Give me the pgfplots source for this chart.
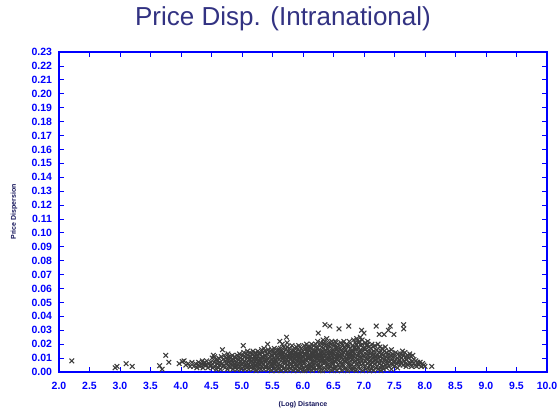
\documentclass[border=0pt]{standalone}
\usepackage{fontspec}
\setmainfont{Liberation Sans}
\usepackage{pgfplots}
\usepackage{pgfplotstable}
\pgfplotsset{compat=1.18}
\definecolor{axblue}{RGB}{0,0,255}
\definecolor{titlenavy}{RGB}{50,50,130}
\definecolor{labelnavy}{RGB}{20,20,90}
\definecolor{markgray}{RGB}{60,60,60}
\pgfplotstableread{
x y
2.21 0.008
2.92 0.003
2.95 0.004
3.10 0.006
3.20 0.004
3.65 0.0045
3.69 0.002
3.75 0.012
3.80 0.007
3.97 0.006
4.02 0.0075
4.05 0.008
4.08 0.005
4.12 0.006
4.15 0.004
4.18 0.007
4.21 0.004
4.24 0.006
4.26 0.003
4.28 0.005
4.29 0.007
4.31 0.004
4.33 0.006
4.35 0.008
4.36 0.003
4.38 0.005
4.39 0.007
4.41 0.005
4.42 0.008
4.44 0.003
4.46 0.006
4.48 0.004
4.49 0.007
4.50 0.005
4.51 0.010
4.52 0.003
4.53 0.012
4.54 0.007
4.55 0.011
4.56 0.004
4.57 0.009
4.58 0.002
4.59 0.006
4.60 0.008
4.61 0.003
4.62 0.010
4.63 0.005
4.64 0.007
4.65 0.002
4.66 0.011
4.67 0.006
4.68 0.016
4.69 0.004
4.69 0.009
4.70 0.005
4.71 0.012
4.72 0.003
4.73 0.008
4.74 0.010
4.75 0.006
4.76 0.002
4.77 0.013
4.78 0.007
4.78 0.004
4.79 0.009
4.79 0.011
4.80 0.006
4.81 0.003
4.81 0.010
4.82 0.008
4.83 0.005
4.84 0.012
4.85 0.002
4.85 0.007
4.86 0.009
4.87 0.004
4.88 0.011
4.88 0.006
4.89 0.003
4.89 0.008
4.90 0.010
4.90 0.004
4.91 0.007
4.92 0.002
4.92 0.012
4.93 0.005
4.94 0.009
4.94 0.003
4.95 0.011
4.96 0.006
4.96 0.013
4.97 0.004
4.98 0.008
4.98 0.010
4.99 0.002
4.99 0.006
5.00 0.009
5.00 0.003
5.01 0.012
5.02 0.019
5.02 0.006
5.03 0.004
5.03 0.014
5.04 0.008
5.05 0.002
5.05 0.011
5.06 0.005
5.07 0.009
5.07 0.013
5.08 0.003
5.08 0.007
5.09 0.010
5.09 0.015
5.09 0.004
5.10 0.006
5.10 0.012
5.11 0.002
5.12 0.009
5.12 0.004
5.13 0.014
5.14 0.007
5.14 0.011
5.15 0.003
5.16 0.008
5.16 0.013
5.17 0.005
5.17 0.010
5.18 0.002
5.18 0.015
5.19 0.006
5.19 0.009
5.19 0.004
5.20 0.011
5.20 0.003
5.21 0.007
5.22 0.014
5.22 0.005
5.23 0.009
5.23 0.001
5.24 0.012
5.25 0.006
5.25 0.010
5.26 0.004
5.26 0.015
5.27 0.008
5.27 0.002
5.28 0.013
5.28 0.006
5.29 0.010
5.29 0.003
5.29 0.008
5.21 0.012
5.30 0.005
5.30 0.013
5.31 0.009
5.31 0.002
5.32 0.016
5.32 0.007
5.33 0.011
5.33 0.004
5.34 0.014
5.35 0.006
5.35 0.010
5.36 0.002
5.36 0.017
5.37 0.008
5.37 0.012
5.38 0.004
5.38 0.015
5.39 0.007
5.39 0.003
5.39 0.011
5.40 0.009
5.40 0.004
5.41 0.013
5.42 0.020
5.42 0.006
5.43 0.016
5.43 0.002
5.44 0.010
5.44 0.007
5.45 0.014
5.45 0.003
5.46 0.011
5.46 0.008
5.47 0.005
5.47 0.015
5.48 0.001
5.48 0.012
5.49 0.009
5.49 0.006
5.49 0.016
5.50 0.004
5.50 0.012
5.51 0.008
5.51 0.015
5.52 0.002
5.52 0.010
5.53 0.006
5.53 0.017
5.54 0.013
5.54 0.003
5.55 0.009
5.55 0.005
5.56 0.014
5.56 0.001
5.57 0.011
5.57 0.007
5.58 0.016
5.58 0.004
5.59 0.010
5.59 0.002
5.59 0.013
5.55 0.008
5.60 0.006
5.60 0.014
5.61 0.009
5.61 0.003
5.62 0.022
5.62 0.012
5.63 0.005
5.63 0.017
5.64 0.008
5.64 0.001
5.65 0.015
5.65 0.011
5.66 0.004
5.66 0.020
5.67 0.007
5.67 0.013
5.68 0.002
5.68 0.010
5.69 0.018
5.69 0.006
5.64 0.013
5.66 0.009
5.61 0.016
5.68 0.014
5.70 0.003
5.70 0.011
5.71 0.016
5.71 0.007
5.72 0.001
5.72 0.013
5.73 0.025
5.73 0.009
5.74 0.005
5.74 0.018
5.75 0.012
5.75 0.002
5.76 0.008
5.76 0.015
5.77 0.004
5.77 0.010
5.78 0.017
5.78 0.006
5.79 0.013
5.79 0.003
5.74 0.021
5.71 0.010
5.76 0.011
5.78 0.014
5.80 0.009
5.80 0.002
5.81 0.014
5.81 0.006
5.82 0.019
5.82 0.011
5.83 0.004
5.83 0.008
5.84 0.016
5.84 0.001
5.85 0.012
5.85 0.007
5.86 0.003
5.86 0.017
5.87 0.010
5.87 0.005
5.88 0.014
5.88 0.002
5.89 0.009
5.89 0.018
5.81 0.010
5.83 0.013
5.85 0.015
5.87 0.012
5.89 0.006
5.86 0.009
5.90 0.011
5.90 0.004
5.91 0.016
5.91 0.008
5.92 0.001
5.92 0.013
5.93 0.006
5.93 0.019
5.94 0.010
5.94 0.003
5.95 0.015
5.95 0.007
5.96 0.012
5.96 0.002
5.97 0.017
5.97 0.009
5.98 0.005
5.98 0.014
5.99 0.011
5.99 0.001
5.91 0.012
5.93 0.009
5.95 0.018
5.97 0.004
5.99 0.008
5.94 0.013
6.00 0.007
6.00 0.015
6.01 0.003
6.01 0.011
6.02 0.019
6.02 0.006
6.03 0.013
6.03 0.001
6.04 0.009
6.04 0.017
6.05 0.004
6.05 0.012
6.06 0.020
6.06 0.008
6.07 0.002
6.07 0.014
6.08 0.010
6.08 0.005
6.09 0.016
6.09 0.012
6.01 0.008
6.03 0.016
6.05 0.009
6.07 0.011
6.09 0.003
6.02 0.013
6.06 0.015
6.08 0.018
6.10 0.010
6.10 0.002
6.11 0.015
6.11 0.006
6.12 0.018
6.12 0.012
6.13 0.004
6.13 0.009
6.14 0.020
6.14 0.014
6.15 0.001
6.15 0.007
6.16 0.011
6.16 0.016
6.17 0.005
6.17 0.013
6.18 0.003
6.18 0.019
6.19 0.008
6.19 0.012
6.11 0.010
6.13 0.017
6.15 0.013
6.17 0.009
6.19 0.015
6.12 0.005
6.16 0.003
6.18 0.011
6.20 0.006
6.20 0.014
6.21 0.020
6.21 0.009
6.22 0.002
6.22 0.012
6.23 0.017
6.23 0.005
6.24 0.010
6.24 0.022
6.25 0.028
6.25 0.013
6.26 0.003
6.26 0.008
6.27 0.016
6.27 0.011
6.28 0.001
6.28 0.019
6.29 0.007
6.29 0.014
6.21 0.015
6.23 0.010
6.25 0.006
6.27 0.004
6.29 0.021
6.22 0.018
6.26 0.013
6.28 0.009
6.30 0.012
6.30 0.004
6.31 0.018
6.31 0.008
6.32 0.001
6.32 0.015
6.33 0.023
6.33 0.010
6.34 0.006
6.34 0.013
6.35 0.020
6.35 0.003
6.36 0.034
6.36 0.011
6.37 0.016
6.37 0.007
6.38 0.002
6.38 0.014
6.39 0.024
6.39 0.009
6.31 0.012
6.33 0.017
6.35 0.008
6.37 0.019
6.39 0.005
6.32 0.010
6.34 0.021
6.38 0.012
6.40 0.010
6.40 0.017
6.41 0.005
6.41 0.013
6.42 0.002
6.42 0.021
6.43 0.008
6.43 0.015
6.44 0.033
6.44 0.011
6.45 0.004
6.45 0.018
6.46 0.009
6.46 0.014
6.47 0.001
6.47 0.022
6.48 0.007
6.48 0.012
6.49 0.016
6.49 0.003
6.41 0.019
6.43 0.010
6.45 0.013
6.47 0.006
6.49 0.011
6.42 0.008
6.46 0.020
6.48 0.015
6.50 0.006
6.50 0.014
6.51 0.019
6.51 0.010
6.52 0.002
6.52 0.012
6.53 0.022
6.53 0.007
6.54 0.016
6.54 0.004
6.55 0.011
6.55 0.009
6.56 0.018
6.56 0.001
6.57 0.013
6.57 0.020
6.58 0.005
6.58 0.015
6.59 0.031
6.59 0.008
6.51 0.013
6.53 0.003
6.55 0.017
6.57 0.010
6.59 0.012
6.52 0.008
6.54 0.021
6.58 0.011
6.60 0.011
6.60 0.003
6.61 0.017
6.61 0.007
6.62 0.013
6.62 0.021
6.63 0.001
6.63 0.010
6.64 0.015
6.64 0.006
6.65 0.019
6.65 0.012
6.66 0.004
6.66 0.009
6.67 0.022
6.67 0.014
6.68 0.002
6.68 0.018
6.69 0.008
6.69 0.011
6.61 0.012
6.63 0.016
6.65 0.005
6.67 0.008
6.69 0.015
6.64 0.020
6.70 0.007
6.70 0.016
6.71 0.012
6.71 0.003
6.72 0.020
6.72 0.009
6.73 0.014
6.73 0.001
6.74 0.011
6.74 0.018
6.75 0.033
6.75 0.006
6.76 0.013
6.76 0.022
6.77 0.004
6.77 0.010
6.78 0.017
6.78 0.008
6.79 0.002
6.79 0.015
6.71 0.009
6.73 0.019
6.75 0.012
6.77 0.014
6.79 0.011
6.76 0.005
6.80 0.012
6.80 0.005
6.81 0.019
6.81 0.009
6.82 0.002
6.82 0.015
6.83 0.023
6.83 0.011
6.84 0.007
6.84 0.017
6.85 0.003
6.85 0.013
6.86 0.021
6.86 0.008
6.87 0.010
6.87 0.001
6.88 0.016
6.88 0.024
6.89 0.006
6.89 0.012
6.81 0.014
6.83 0.004
6.85 0.018
6.87 0.020
6.90 0.009
6.90 0.018
6.91 0.004
6.91 0.013
6.92 0.022
6.92 0.007
6.93 0.011
6.93 0.002
6.94 0.016
6.94 0.025
6.95 0.010
6.95 0.005
6.96 0.030
6.96 0.014
6.97 0.020
6.97 0.008
6.98 0.001
6.98 0.012
6.99 0.017
6.99 0.006
6.91 0.021
6.93 0.015
6.95 0.019
6.97 0.023
7.00 0.028
7.00 0.011
7.01 0.004
7.01 0.017
7.02 0.021
7.02 0.008
7.03 0.013
7.03 0.002
7.04 0.019
7.04 0.010
7.05 0.006
7.05 0.015
7.06 0.022
7.06 0.012
7.07 0.003
7.07 0.009
7.08 0.018
7.08 0.014
7.09 0.001
7.09 0.007
7.02 0.016
7.06 0.020
7.10 0.011
7.10 0.005
7.11 0.017
7.11 0.009
7.12 0.002
7.12 0.014
7.13 0.020
7.13 0.007
7.14 0.012
7.14 0.004
7.15 0.018
7.15 0.010
7.16 0.001
7.16 0.015
7.17 0.008
7.17 0.013
7.18 0.006
7.18 0.019
7.19 0.003
7.19 0.011
7.20 0.033
7.20 0.009
7.21 0.016
7.21 0.004
7.22 0.012
7.22 0.007
7.23 0.020
7.23 0.002
7.24 0.010
7.24 0.014
7.25 0.027
7.25 0.006
7.26 0.018
7.26 0.011
7.27 0.003
7.27 0.008
7.28 0.015
7.28 0.001
7.29 0.013
7.29 0.005
7.30 0.010
7.30 0.017
7.31 0.004
7.31 0.012
7.32 0.007
7.32 0.002
7.33 0.027
7.33 0.015
7.34 0.009
7.35 0.005
7.35 0.018
7.36 0.011
7.37 0.003
7.37 0.014
7.38 0.008
7.39 0.006
7.40 0.030
7.39 0.012
7.40 0.010
7.41 0.004
7.41 0.015
7.42 0.008
7.43 0.033
7.43 0.012
7.44 0.006
7.45 0.016
7.45 0.002
7.46 0.009
7.47 0.013
7.47 0.005
7.48 0.011
7.49 0.027
7.49 0.007
7.50 0.004
7.50 0.012
7.51 0.008
7.52 0.014
7.53 0.006
7.54 0.010
7.55 0.003
7.56 0.013
7.57 0.007
7.58 0.009
7.59 0.005
7.59 0.011
7.60 0.013
7.61 0.007
7.62 0.010
7.63 0.015
7.64 0.005
7.65 0.034
7.65 0.031
7.65 0.012
7.66 0.008
7.67 0.014
7.68 0.006
7.69 0.011
7.69 0.004
7.70 0.009
7.71 0.012
7.72 0.005
7.73 0.010
7.74 0.007
7.75 0.013
7.76 0.006
7.77 0.011
7.78 0.004
7.79 0.008
7.80 0.012
7.81 0.006
7.82 0.009
7.84 0.005
7.85 0.008
7.86 0.004
7.88 0.007
7.89 0.006
7.90 0.005
7.92 0.007
7.94 0.004
7.96 0.006
7.98 0.005
8.00 0.004
8.11 0.004
}\scatterdata
\begin{document}
\begin{tikzpicture}
\begin{axis}[
  scale only axis,
  width=488pt, height=320pt,
  xmin=2, xmax=10, ymin=0, ymax=0.23,
  xtick distance=0.5,
  ytick distance=0.01,
  tick align=inside,
  major tick length=5pt,
  axis line style={axblue, line width=1.6pt},
  every tick/.style={axblue, line width=0.8pt},
  axis on top,
  scaled y ticks=false,
  scaled x ticks=false,
  /pgf/number format/assume math mode=true,
  xticklabel style={/pgf/number format/.cd, fixed, fixed zerofill, precision=1, /tikz/.cd, text=axblue, font=\fontsize{10.5}{12}\selectfont\bfseries, yshift=-7pt},
  yticklabel style={/pgf/number format/.cd, fixed, fixed zerofill, precision=2, /tikz/.cd, text=axblue, font=\fontsize{10.5}{12}\selectfont\bfseries, xshift=-3.5pt},
  xlabel={(Log) Distance},
  ylabel={Price Dispersion},
  xlabel style={at={(axis description cs:0.5,-0.103)}, anchor=center, text=labelnavy, font=\fontsize{7}{8}\selectfont\bfseries},
  ylabel style={at={(axis description cs:-0.0922,0.5)}, anchor=center, text=labelnavy, font=\fontsize{7}{8}\selectfont\bfseries},
  title={Price Disp. (Intranational)},
  title style={at={(0.459,1)}, anchor=base, yshift=20pt, text=titlenavy, font=\fontsize{26}{30}\selectfont},
]
\addplot[only marks, mark=x, mark size=3.3pt, color=markgray, mark options={line width=1.05pt}] table[x=x, y=y] {\scatterdata};
\end{axis}
\path (current axis.south west) ++(-59pt,-43pt) coordinate (bl);
\path (current axis.north east) ++(13pt,52pt) coordinate (tr);
\pgfresetboundingbox
\path (bl) rectangle (tr);
\end{tikzpicture}
\end{document}
